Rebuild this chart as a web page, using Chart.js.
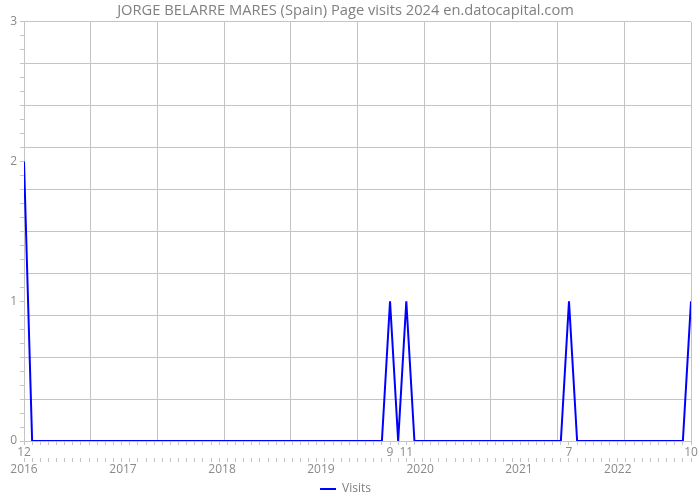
<!DOCTYPE html>
<html><head><meta charset="utf-8">
<script src="https://cdn.jsdelivr.net/npm/chart.js@4"></script>
<style>html,body{margin:0;padding:0;background:#fff}#wrap{width:700px;height:500px}</style>
</head><body><div id="wrap"><canvas id="c" width="700" height="500"></canvas></div>
<script>
// Monthly visits, Dec 2015 .. Oct 2022
const visits = [
  2, 0, 0, 0, 0, 0, 0, 0, 0, 0, 0, 0, 0, 0, 0, 0, 0, 0, 0, 0,
  0, 0, 0, 0, 0, 0, 0, 0, 0, 0, 0, 0, 0, 0, 0, 0, 0, 0, 0, 0,
  0, 0, 0, 0, 0, 1, 0, 1, 0, 0, 0, 0, 0, 0, 0, 0, 0, 0, 0, 0,
  0, 0, 0, 0, 0, 0, 0, 1, 0, 0, 0, 0, 0, 0, 0, 0, 0, 0, 0, 0,
  0, 0, 1
];
const monthTickIdx = [0, 45, 47, 67, 82];
const monthTickLabels = ['12', '9', '11', '7', '10'];
const yearLabels = ['2016', '2017', '2018', '2019', '2020', '2021', '2022'];
const yearIdx = [0, 12.17, 24.35, 36.5, 48.7, 60.85, 73];
const yTickLabels = ['0', '1', '2', '3'];

const N = visits.length - 1;
const GRID = '#c4c4c4';
const TXT = '#8a8a8a';
const FONT = 'Open Sans';

new Chart(document.getElementById('c'), {
  type: 'line',
  data: {
    datasets: [{
      label: 'Visits',
      data: visits.map((v, i) => ({ x: i, y: v })),
      borderColor: '#0000ff',
      backgroundColor: '#0000ff',
      borderWidth: 2,
      pointRadius: 0,
      tension: 0,
      fill: false
    }]
  },
  options: {
    responsive: false,
    animation: false,
    layout: { padding: { left: 0, right: 9, top: 0, bottom: 0 } },
    plugins: {
      title: {
        display: true,
        text: 'JORGE BELARRE MARES (Spain) Page visits 2024 en.datocapital.com',
        color: '#808080',
        font: { family: FONT, size: 14.7, weight: 'normal' },
        padding: { top: 2, bottom: 2 }
      },
      legend: {
        position: 'bottom',
        maxHeight: 24,
        labels: {
          usePointStyle: true, pointStyle: 'line', pointStyleWidth: 16,
          color: '#808080', font: { family: FONT, size: 12 }, padding: 7
        }
      },
      tooltip: { enabled: false }
    },
    scales: {
      x: {
        type: 'linear', position: 'bottom', weight: 0, min: 0, max: N,
        afterBuildTicks: s => { s.ticks = visits.map((v, i) => ({ value: i })); },
        ticks: {
          autoSkip: false, maxRotation: 0, color: TXT, padding: 0,
          font: { family: FONT, size: 12 },
          callback: v => { const k = monthTickIdx.indexOf(v); return k >= 0 ? monthTickLabels[k] : ''; }
        },
        grid: { drawOnChartArea: false, drawTicks: true, tickLength: 4, tickColor: GRID, color: GRID },
        border: { display: false },
        afterFit: s => { s.height = 17; }
      },
      xYears: {
        type: 'linear', position: 'bottom', weight: 1, min: 0, max: N,
        afterBuildTicks: s => {
          const t = visits.map((v, i) => ({ value: i }));
          yearIdx.forEach(p => { if (!Number.isInteger(p)) t.push({ value: p }); });
          t.sort((a, b) => a.value - b.value);
          s.ticks = t;
        },
        ticks: {
          autoSkip: false, maxRotation: 0, color: TXT, padding: 0,
          font: { family: FONT, size: 12 },
          callback: v => { const k = yearIdx.indexOf(v); return k >= 0 ? yearLabels[k] : ''; }
        },
        grid: {
          drawOnChartArea: false, drawTicks: true, tickLength: 4,
          tickColor: c => Number.isInteger(c.tick.value) ? GRID : 'rgba(0,0,0,0)'
        },
        border: { display: false },
        afterFit: s => { s.height = 18; }
      },
      xGrid: {
        type: 'linear', position: 'top', min: 0, max: N,
        afterBuildTicks: s => { const t = []; for (let i = 0; i <= 10; i++) t.push({ value: N * i / 10 }); s.ticks = t; },
        ticks: { display: false },
        grid: { drawOnChartArea: true, drawTicks: false, color: GRID },
        border: { display: false }
      },
      y: {
        min: 0, max: 3,
        afterBuildTicks: s => { const t = []; for (let k = 0; k <= 30; k++) t.push({ value: k / 10 }); s.ticks = t; },
        ticks: {
          autoSkip: false, color: TXT, padding: 3,
          font: { family: FONT, size: 12 },
          callback: v => { const r = Math.round(v); return Math.abs(v - r) < 1e-6 ? yTickLabels[r] : ''; }
        },
        grid: {
          tickLength: 4, tickColor: GRID,
          color: c => (Math.round(c.tick.value * 10) % 3 === 0) ? GRID : 'rgba(0,0,0,0)'
        },
        border: { display: true, color: GRID },
        afterFit: s => { s.width = 24; }
      }
    }
  }
});
</script></body></html>
